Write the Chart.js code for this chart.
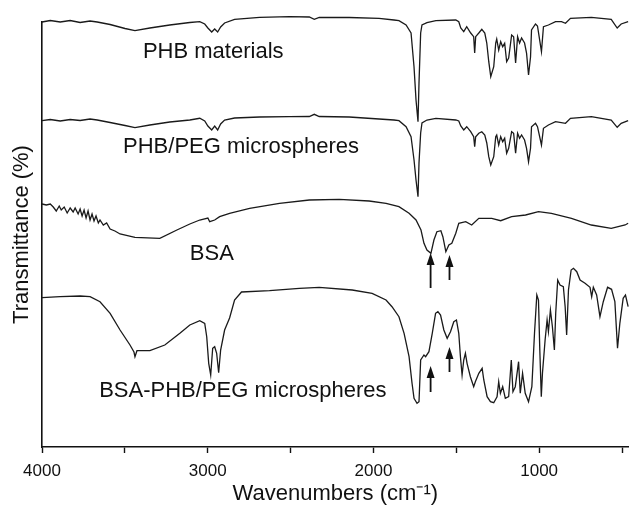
<!DOCTYPE html>
<html>
<head>
<meta charset="utf-8">
<script src="https://cdn.jsdelivr.net/npm/chart.js@4"></script>
<style>
  body { margin: 0; background: #fff; }
  canvas { display: block; }
</style>
</head>
<body>
<canvas id="ftir" width="630" height="505"></canvas>
<script>
// FTIR spectra, [wavenumber (cm-1), offset transmittance (a.u.)]
const phbMaterials = [
  [4000, 425], [3950, 426.5], [3890, 425], [3830, 426.5], [3770, 424.5], [3710, 426],
  [3667, 425], [3589, 422.5], [3499, 418.5], [3439, 416.3], [3349, 419], [3229, 422],
  [3108, 424.5], [3048, 425.3], [3018, 423], [2999, 419], [2976, 415], [2958, 418],
  [2940, 415], [2922, 420], [2898, 424], [2838, 427.7], [2687, 429.7], [2507, 430.3],
  [2387, 430], [2357, 427.7], [2327, 429.7], [2146, 429.5], [1966, 428.7], [1876, 427],
  [1846, 426.3], [1803, 422], [1773, 414], [1755, 380], [1743, 347], [1731, 325.3],
  [1725, 364], [1715, 414], [1707, 422], [1677, 424.3], [1623, 426.3], [1503, 427],
  [1485, 425.3], [1473, 419], [1455, 415.3], [1437, 420.3], [1413, 414], [1395, 410.3],
  [1389, 394], [1383, 410.3], [1364, 414], [1346, 417.7], [1328, 414], [1316, 404],
  [1304, 385.3], [1292, 370.3], [1274, 380.3], [1262, 404], [1256, 408], [1244, 397],
  [1232, 405.3], [1220, 400.3], [1208, 403.7], [1196, 385.3], [1184, 389], [1166, 412],
  [1154, 410.3], [1142, 384], [1130, 410.3], [1118, 404], [1106, 409], [1088, 404],
  [1076, 394], [1064, 372], [1052, 390], [1046, 417], [1022, 423], [1010, 421],
  [986, 395.3], [974, 420.3], [944, 422], [901, 425.3], [865, 425.3], [841, 423.7],
  [811, 428.7], [685, 429.7], [565, 427.7], [529, 419], [505, 423], [463, 425.3]
];

const phbPegMicrospheres = [
  [4000, 326.3], [3950, 327.5], [3890, 326], [3830, 327.5], [3770, 326.5], [3710, 328],
  [3667, 327], [3589, 324.5], [3499, 321.5], [3439, 319.3], [3349, 322], [3229, 325],
  [3108, 327], [3048, 328.7], [3018, 326], [2999, 321], [2976, 317], [2958, 321],
  [2940, 317], [2922, 323], [2898, 327], [2838, 329], [2687, 330], [2507, 330.3],
  [2387, 330.5], [2357, 332.7], [2327, 330.5], [2146, 330], [1966, 328], [1876, 327],
  [1846, 326.3], [1803, 320.3], [1773, 310.3], [1755, 287], [1743, 267], [1731, 250.3],
  [1725, 284], [1715, 314], [1707, 324], [1677, 327], [1623, 328.7], [1503, 327],
  [1485, 326], [1473, 321], [1455, 317], [1437, 320.3], [1413, 315.3], [1395, 310.3],
  [1389, 300.3], [1383, 310.3], [1364, 313.7], [1346, 315.3], [1328, 312], [1316, 304],
  [1304, 290.3], [1292, 282], [1274, 290.3], [1262, 310.3], [1256, 312], [1244, 302],
  [1232, 310.3], [1220, 305.3], [1208, 308.7], [1196, 293.7], [1184, 298.7], [1166, 315.3],
  [1154, 313.7], [1142, 293.7], [1130, 313.7], [1118, 308.7], [1106, 312], [1088, 307],
  [1076, 298.7], [1064, 285.3], [1052, 298.7], [1046, 320.3], [1022, 323.7], [1010, 320.3],
  [986, 302], [974, 318.7], [944, 322], [901, 325.3], [841, 323.7], [811, 328.7],
  [685, 330.3], [565, 327], [529, 319.7], [505, 323.7], [463, 326.3]
];

const bsa = [
  [4000, 243], [3974, 242], [3950, 243], [3932, 240], [3914, 236], [3896, 241],
  [3884, 237], [3866, 240], [3848, 234], [3830, 239], [3812, 235], [3800, 239],
  [3782, 233], [3770, 238], [3758, 231], [3746, 237], [3734, 229], [3722, 236],
  [3710, 227], [3698, 233], [3686, 226], [3674, 231], [3660, 224], [3650, 227],
  [3630, 222], [3610, 224], [3589, 218], [3560, 216], [3529, 213], [3439, 209.7],
  [3289, 208.7], [3186, 217], [3108, 223], [3048, 227], [2999, 229], [2988, 225.3],
  [2958, 227], [2928, 230.3], [2868, 233.7], [2747, 238.7], [2567, 243.7], [2387, 247],
  [2206, 247.7], [2026, 246], [1924, 243.7], [1846, 240.3], [1785, 233.7], [1743, 227],
  [1713, 217], [1695, 203.7], [1677, 197], [1653, 193.7], [1635, 207], [1617, 215.3],
  [1593, 216.3], [1581, 210.3], [1563, 195.3], [1545, 202], [1527, 203.7], [1503, 213.7],
  [1485, 223.7], [1443, 225.3], [1407, 222], [1364, 228.7], [1286, 228.7], [1232, 226.3],
  [1166, 230.3], [1082, 232], [1004, 235.3], [926, 233.7], [805, 228.7], [685, 222],
  [565, 218.7], [481, 222], [463, 223.7]
];

const bsaPhbPegMicrospheres = [
  [4000, 149.3], [3890, 150.3], [3770, 151], [3710, 150.3], [3650, 145.3], [3589, 133.7],
  [3529, 117], [3469, 102], [3445, 95], [3439, 90.3], [3427, 96.3], [3349, 96.3],
  [3259, 102], [3168, 113.7], [3108, 122], [3048, 126.3], [3018, 123.7], [3006, 110.3],
  [2994, 83.7], [2982, 72], [2970, 98.7], [2958, 100.3], [2946, 93.7], [2934, 74.3],
  [2922, 97], [2898, 117], [2868, 129], [2838, 147], [2796, 155], [2627, 156.3],
  [2447, 158.7], [2327, 159.7], [2128, 157], [2008, 153.7], [1924, 147], [1888, 140.3],
  [1846, 130.3], [1815, 113.7], [1785, 90.3], [1767, 63.7], [1755, 48.7], [1737, 43.7],
  [1725, 45.3], [1715, 87], [1695, 92], [1685, 90.3], [1665, 95.3], [1645, 113.7],
  [1625, 133.7], [1611, 135.3], [1595, 132], [1575, 117], [1555, 108.7], [1535, 115.3],
  [1515, 125.3], [1499, 127], [1485, 113.7], [1475, 90.3], [1465, 72], [1455, 87],
  [1445, 93.7], [1435, 83.7], [1415, 70.3], [1395, 60.3], [1385, 65.3], [1364, 73.7],
  [1344, 78.7], [1334, 67], [1314, 50.3], [1294, 45.3], [1274, 44.3], [1254, 50.3],
  [1244, 65.3], [1234, 53.7], [1220, 60.3], [1204, 48.7], [1184, 50.3], [1168, 87],
  [1158, 55.3], [1144, 60.3], [1124, 85.3], [1114, 53.7], [1100, 73.7], [1084, 53.7],
  [1064, 45.3], [1044, 60.3], [1028, 113.7], [1014, 152], [1004, 147], [996, 97],
  [987, 50.3], [980, 73.7], [964, 107], [952, 127], [944, 115.3], [932, 137],
  [920, 120.3], [908, 97], [900, 133.7], [888, 167], [874, 162], [854, 160.3],
  [843, 140.3], [834, 112], [823, 157], [807, 177], [793, 178.7], [773, 175.3],
  [753, 167], [723, 163.7], [693, 159.7], [683, 150.3], [673, 159.7], [653, 152],
  [633, 130.3], [613, 145.3], [587, 159.7], [563, 157.7], [543, 145.3], [527, 98.7],
  [513, 123.7], [493, 148.7], [479, 152], [463, 140.3]
];

// x axis ticks: labelled every 1000, minor every 500
const xTicks = [4000, 3500, 3000, 2500, 2000, 1500, 1000, 500];

// curve names, anchored at [wavenumber, value] of the text's left/middle
const curveLabels = [
  ["PHB materials", 3391, 395],
  ["PHB/PEG microspheres", 3511, 300],
  ["BSA", 3108, 193],
  ["BSA-PHB/PEG microspheres", 3655, 56]
];

// amide I / II arrows: [wavenumber, tail value, tip value]
const amideArrows = [
  [1655, 159, 194],
  [1541, 167, 192],
  [1655, 55, 81],
  [1541, 75, 100]
];

const INK = "#1a1a1a";
const FONT = "'Liberation Sans', Arial, sans-serif";

function toPoints(pairs) {
  return pairs.map(([x, y]) => ({ x, y }));
}

function spectrum(label, pairs) {
  return {
    label,
    data: toPoints(pairs),
    borderColor: INK,
    borderWidth: 1.3,
    pointRadius: 0,
    tension: 0,
    fill: false,
    clip: false,
  };
}

// Curve names and arrows drawn after the spectra
const annotations = {
  id: "annotations",
  afterDatasetsDraw(chart) {
    const { ctx } = chart;
    const xs = chart.scales.x;
    const ys = chart.scales.y;
    ctx.save();
    ctx.fillStyle = "#111";
    ctx.font = `22px ${FONT}`;
    ctx.textAlign = "left";
    ctx.textBaseline = "middle";
    curveLabels.forEach(([text, wn, v]) => {
      ctx.fillText(text, xs.getPixelForValue(wn), ys.getPixelForValue(v));
    });

    ctx.strokeStyle = "#111";
    ctx.lineWidth = 1.8;
    amideArrows.forEach(([wn, tail, tip]) => {
      const x = xs.getPixelForValue(wn);
      const y0 = ys.getPixelForValue(tail);
      const y1 = ys.getPixelForValue(tip);
      ctx.beginPath();
      ctx.moveTo(x, y0);
      ctx.lineTo(x, y1 + 10);
      ctx.stroke();
      ctx.beginPath();
      ctx.moveTo(x, y1);
      ctx.lineTo(x - 4, y1 + 12);
      ctx.lineTo(x + 4, y1 + 12);
      ctx.closePath();
      ctx.fill();
    });
    ctx.restore();
  },
};

new Chart(document.getElementById("ftir"), {
  type: "line",
  data: {
    datasets: [
      spectrum("PHB materials", phbMaterials),
      spectrum("PHB/PEG microspheres", phbPegMicrospheres),
      spectrum("BSA", bsa),
      spectrum("BSA-PHB/PEG microspheres", bsaPhbPegMicrospheres),
    ],
  },
  options: {
    responsive: false,
    animation: false,
    layout: { padding: { top: 22, right: 0, bottom: 0, left: 0 } },
    plugins: {
      legend: { display: false },
      tooltip: { enabled: false },
    },
    scales: {
      x: {
        type: "linear",
        reverse: true,
        min: 460,
        max: 4000,
        afterBuildTicks: (axis) => {
          axis.ticks = xTicks.map((value) => ({ value }));
        },
        afterFit: (axis) => {
          axis.height = 58;
        },
        border: { display: true, color: "#111", width: 1.6 },
        grid: {
          display: true,
          drawOnChartArea: false,
          drawTicks: true,
          tickLength: 6,
          tickColor: "#111",
          tickWidth: 1.4,
        },
        ticks: {
          autoSkip: false,
          maxRotation: 0,
          padding: 8,
          color: "#111",
          font: { family: FONT, size: 17 },
          callback: (v) => (v % 1000 === 0 ? String(v) : ""),
        },
        title: {
          display: true,
          text: "Wavenumbers (cm\u207B\u00B9)",
          color: "#111",
          font: { family: FONT, size: 22, lineHeight: 1 },
          padding: { top: 0, bottom: 0 },
        },
      },
      y: {
        type: "linear",
        min: 0,
        max: 425,
        afterFit: (axis) => {
          axis.width = 42;
        },
        border: { display: true, color: "#111", width: 1.6 },
        grid: { display: false },
        ticks: { display: false },
        title: {
          display: true,
          text: "Transmittance (%)",
          color: "#111",
          font: { family: FONT, size: 22, lineHeight: 1 },
          padding: { top: 11, bottom: 0 },
        },
      },
    },
  },
  plugins: [annotations],
});
</script>
</body>
</html>
